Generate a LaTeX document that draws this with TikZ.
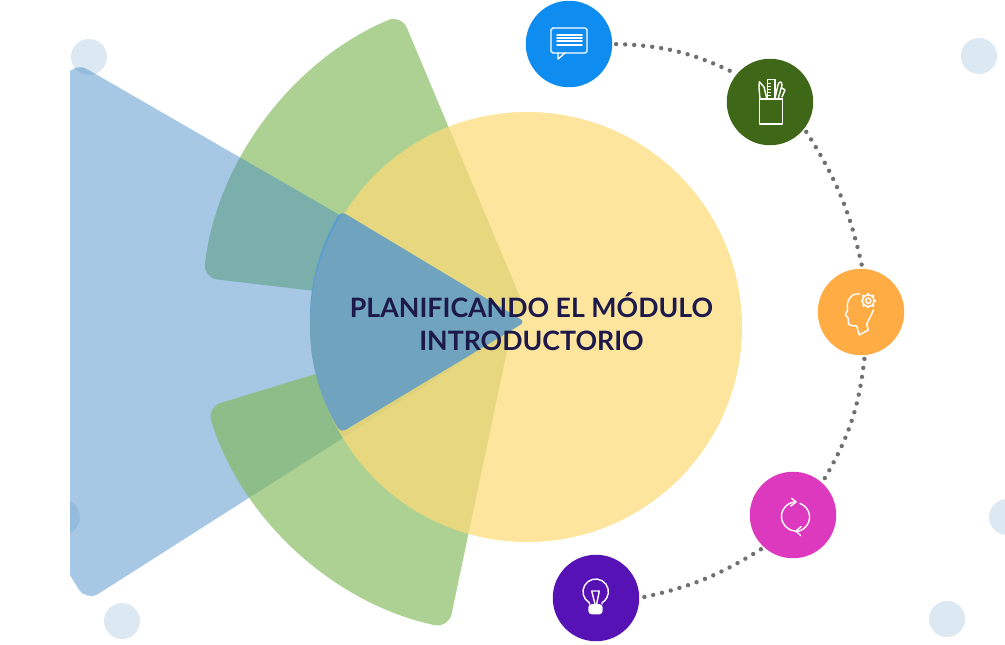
\documentclass[tikz,border=0pt]{standalone}
\usepackage{xcolor}
\usepackage{fontspec}
\setmainfont{Lato}
\usetikzlibrary{shapes.geometric,positioning}
\definecolor{palespot}{HTML}{DCE9F3}
\definecolor{fangreen}{HTML}{ACD193}
\definecolor{lowgreen}{HTML}{80B959}
\definecolor{fanblue}{HTML}{468CC7}
\definecolor{coreblue}{HTML}{70A3BD}
\definecolor{edgeblue}{HTML}{5A9FD0}
\definecolor{sunyellow}{HTML}{FEDB7A}
\definecolor{titleink}{HTML}{1D1A4B}
\definecolor{linkgray}{HTML}{707070}
\definecolor{msgblue}{HTML}{0F8CF0}
\definecolor{pensgreen}{HTML}{3F6718}
\definecolor{headorange}{HTML}{FFAC45}
\definecolor{cyclepink}{HTML}{DD39BF}
\definecolor{bulbpurple}{HTML}{5712B5}

\begin{document}
\begin{tikzpicture}[x=0.02cm,y=-0.02cm,
    disc/.style={shape=circle, inner sep=0pt, minimum size=1.73cm},
    spot/.style={fill=palespot},
    fan/.style={rounded corners=8pt},
    dotlink/.style={linkgray, line width=2.5pt, line cap=round, dash pattern=on 0pt off 5.15pt, shorten <=2pt, shorten >=2pt},
    icon/.style={white, line width=.8pt, line join=round, line cap=round}]
    \useasboundingbox (0,0) rectangle (1005,645);

    \fill[spot] (89,57) circle (18);
    \fill[spot] (979,56) circle (18);
    \fill[spot] (122,621) circle (18);
    \fill[spot] (947,619) circle (18);
    \fill[spot] (1007,517) circle (18);

    \fill[fangreen,fan] (528,316) -- ++(247.2:327) arc (247.2:186.7:327) -- cycle;

    \begin{scope}
      \clip (70,0) rectangle (1005,645);
      \fill[spot] (62,517) circle (18);
      \fill[fanblue,fill opacity=.48,fan] (525,322) -- ++(210:520) arc (210:147.5:520) -- cycle;
    \end{scope}

    \fill[lowgreen,fill opacity=.65,fan] (515,313) -- ++(163:322) arc (163:101.9:322) -- cycle;

    \fill[sunyellow,fill opacity=.73] (527,327) circle (215);

    \fill[edgeblue,rounded corners=3pt] (525,322) -- ++(211:215) arc (211:180:215) -- (310,322) -- cycle;
    \begin{scope}
      \clip (525,327) circle (215);
      \fill[coreblue,rounded corners=3pt] (525,322) -- ++(211:215) arc (211:149:215) -- cycle;
    \end{scope}

    \node[titleink,align=center,font=\fontsize{15.2}{18.8}\bfseries] (title) at (531.5,322) {PLANIFICANDO EL MÓDULO\\INTRODUCTORIO};

    \node[disc,fill=msgblue] (msg) at (569,44) {};
    \node[disc,fill=pensgreen] (pens) at (770,102) {};
    \node[disc,fill=headorange] (head) at (861,312) {};
    \node[disc,fill=cyclepink] (cycle) at (793,515) {};
    \node[disc,fill=bulbpurple] (bulb) at (596,598) {};

    \draw[dotlink] (msg.0) to[bend left=12] (pens.140);
    \draw[dotlink] (pens.-38) to[bend left=10] (head.88);
    \draw[dotlink] (head.-85) to[bend left=12] (cycle.48);
    \draw[dotlink] (cycle.-132) to[bend left=10] (bulb.0);

    % message
    \begin{scope}[shift={(msg)}]
      \draw[icon,rounded corners=1pt] (-18,-16) rectangle (18,9);
      \draw[icon] (-11,9) -- (-11,15) -- (-4,9);
      \foreach \yy in {-9,-6,-3,1}
        \draw[icon,line width=1pt] (-12,\yy) -- (13,\yy);
    \end{scope}

    % pens in a cup
    \begin{scope}[shift={(pens)}]
      \draw[icon] (-10.3,-3) rectangle (12.7,22);
      \draw[icon] (-10,-3.7) -- (-11,-14) -- (-10.7,-20.3) -- (-6,-15) -- (-3.3,-3.7);
      \draw[icon] (-2.7,-3.7) -- (-2.7,-22.7) -- (5,-22.7) -- (5,-3.7);
      \foreach \yy in {-19,-16,-13,-10,-7}
        \draw[icon,line width=.5pt] (-2.7,\yy) -- (.5,\yy);
      \draw[icon] (5,-3.7) -- (8,-17) .. controls (9,-21) and (12,-21) .. (12,-17) -- (8.3,-3.7);
      \draw[icon] (12,-14) -- (15,-12) -- (12,-5);
    \end{scope}

    % head with a gear
    \begin{scope}[shift={(head)}]
      \draw[icon] (-1,-18) .. controls (-6,-18.5) and (-9.3,-17) .. (-11,-14) .. controls (-13.5,-11) and (-14.3,-7) .. (-13.3,-2) -- (-15.7,3) -- (-12.7,6.3) -- (-12.7,11) .. controls (-12.7,13) and (-9,14) .. (-4.3,14) -- (-1.7,23) -- (7.3,18) -- (5.7,12) .. controls (8,7) and (11,2) .. (12.3,-2);
      \draw[icon] (7.3,-11.3) circle (5.8);
      \draw[icon] (7.3,-11.3) circle (2.6);
      \foreach \aa in {0,45,...,315}
        \draw[icon,line width=1.3pt,line cap=butt] (7.3,-11.3) ++(\aa:5.8) -- ++(\aa:2);
    \end{scope}

    % arrows in a circle
    \begin{scope}[shift={(cycle)}]
      \draw[icon] (3,-13) arc[start angle=-90,end angle=-265,radius=14.5];
      \draw[icon] (7,-11.5) arc[start angle=-70,end angle=88,radius=14.5];
      \draw[icon] (-1.3,-16.7) -- (3,-13) -- (-2.3,-9);
      \draw[icon] (8,11.7) -- (3,16) -- (7.7,20.7);
    \end{scope}

    % bulb
    \begin{scope}[shift={(bulb)}]
      \draw[icon] (-6.65,6) -- (-6.65,4.7) arc[start angle=120,end angle=420,radius=12.7] -- (6,6);
      \draw[icon] (-1,6) -- (-4.3,-7) -- (3.3,-7) -- (.7,6);
      \fill[white,rounded corners=2pt] (-7.7,6) rectangle (6.7,16.3);
    \end{scope}
  \end{tikzpicture}
\end{document}
